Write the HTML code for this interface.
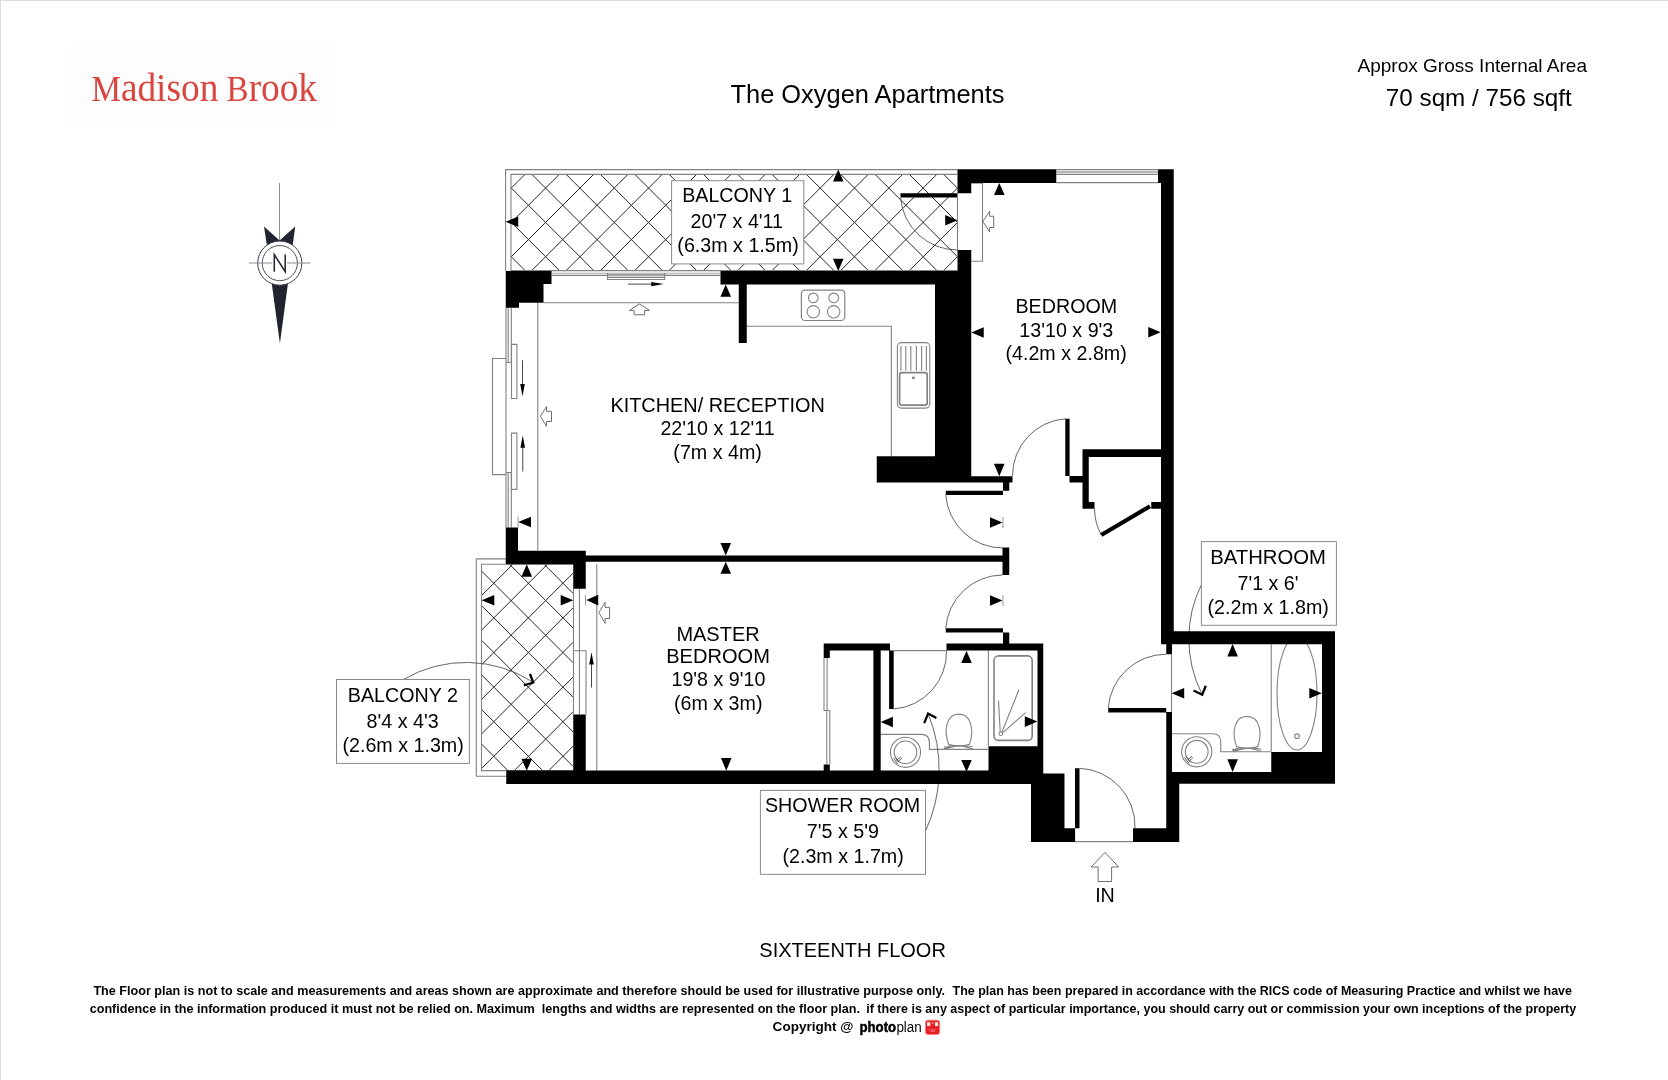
<!DOCTYPE html>
<html><head><meta charset="utf-8"><title>Floor plan</title>
<style>
html,body{margin:0;padding:0;background:#fff;}
body{width:1668px;height:1080px;overflow:hidden;position:relative;font-family:"Liberation Sans",sans-serif;}
svg{position:absolute;left:0;top:0;display:block;will-change:transform;opacity:.999}
text{font-family:"Liberation Sans",sans-serif;fill:#000}
.lbl{font-size:18.4px;text-anchor:middle}
.g{fill:none;stroke:#828282;stroke-width:1.1}
.k{fill:none;stroke:#4a4a4a;stroke-width:0.85}
.w{fill:#000;stroke:none}
.a{fill:#000;stroke:none}
.oa{fill:#fff;stroke:#6e6e6e;stroke-width:1}
.box{fill:#fff;stroke:#8a8a8a;stroke-width:1}
</style></head><body>
<svg width="1668" height="1080" viewBox="0 0 1668 1080">
<rect x="0" y="0" width="1668" height="1" fill="#dcdcdc"/>
<rect x="0" y="0" width="1" height="1080" fill="#dcdcdc"/>
<rect x="71" y="47" width="265" height="80" fill="#fdfdfd"/>
<text x="91.5" y="100.6" style='font-family:"Liberation Serif",serif;font-size:35.5px;fill:#d9463f' textLength="225.5" lengthAdjust="spacingAndGlyphs">M<tspan style="font-size:40px">adison</tspan> B<tspan style="font-size:40px">rook</tspan></text>
<text x="730.5" y="103" style="font-size:25px" textLength="274" lengthAdjust="spacingAndGlyphs">The Oxygen Apartments</text>
<text x="1357.5" y="71.6" style="font-size:18.6px" textLength="229.5" lengthAdjust="spacingAndGlyphs">Approx Gross Internal Area</text>
<text x="1385.8" y="106.4" style="font-size:24px" textLength="186" lengthAdjust="spacingAndGlyphs">70 sqm / 756 sqft</text>
<path d="M511.0 256.5L525.3 270.8M511.0 222.1L559.7 270.8M511.0 187.8L594.0 270.8M531.9 174.4L628.3 270.8M566.2 174.4L662.6 270.8M600.5 174.4L696.9 270.8M634.9 174.4L731.3 270.8M669.2 174.4L765.6 270.8M703.5 174.4L799.9 270.8M737.8 174.4L834.2 270.8M772.1 174.4L868.5 270.8M806.5 174.4L902.9 270.8M840.8 174.4L937.2 270.8M875.1 174.4L957.5 256.8M909.4 174.4L957.5 222.5M943.7 174.4L957.5 188.2M511.0 188.4L525.0 174.4M511.0 222.7L559.3 174.4M511.0 257.0L593.6 174.4M531.5 270.8L627.9 174.4M565.9 270.8L662.3 174.4M600.2 270.8L696.6 174.4M634.5 270.8L730.9 174.4M668.8 270.8L765.2 174.4M703.1 270.8L799.5 174.4M737.5 270.8L833.9 174.4M771.8 270.8L868.2 174.4M806.1 270.8L902.5 174.4M840.4 270.8L936.8 174.4M874.7 270.8L957.5 188.0M909.1 270.8L957.5 222.4M943.4 270.8L957.5 256.7" fill="none" stroke="#262626" stroke-width="1"/>
<path d="M481.5 744.0L508.2 770.8M481.5 709.4L542.9 770.8M481.5 674.8L573.2 766.5M481.5 640.2L573.2 732.0M481.5 605.6L573.2 697.4M481.5 571.0L573.2 662.8M509.4 564.2L573.2 628.1M544.0 564.2L573.2 593.5M481.5 595.6L512.9 564.2M481.5 630.2L547.5 564.2M481.5 664.8L573.2 573.0M481.5 699.4L573.2 607.7M481.5 734.0L573.2 642.2M481.5 768.6L573.2 676.9M514.0 770.8L573.2 711.5M548.6 770.8L573.2 746.1" fill="none" stroke="#262626" stroke-width="1"/>
<g class="g">
<!-- balcony 1 borders -->
<path d="M505.6 271V169.6H957.5M511 271V174.4H957.5M511 270.6H957.5"/>
<!-- balcony 2 borders -->
<path d="M506 558.9H476.3V776.2H506.25M573.25 564.25H481.5V770.6H573.25"/>
<!-- kitchen top window -->
<path d="M551.5 273.3H720.5" stroke="#a8a8a8"/><path d="M551.5 275.4H607.5M664.75 275.4H720.5"/>
<path d="M607.5 273V279.5H664.75V273M607.5 277.4H664.75"/><path d="M607.5 275H664.75" stroke-width="1.4"/>
<!-- kitchen inner frame lines -->
<path d="M543.5 302.75H738.75M537.75 302.75V550.75"/>
<!-- left window -->
<path d="M506 307.75V527.5M508.2 307.75V362.5M511.3 307.75V362.5M506 362.5H511.3M508.2 472.5V527.5M511.3 472.5V527.5M506 472.5H511.3"/>
<path d="M511.5 344.4H516.9V398.5H511.5ZM511.5 433.1H516.9V489.4H511.5Z"/>
<path d="M506 358.5H492.5V474.6H506"/>
<!-- kitchen counter -->
<path d="M746.75 326.3H891.3V456.25"/>
<!-- bedroom window -->
<path d="M1056.25 171.9H1158" stroke="#b5b5b5" stroke-width="2"/><path d="M1056.25 169.6H1158M1056.25 174.4H1158M1056.25 182.6H1158"/>
<!-- bedroom/balcony door frame -->
<path d="M971.25 183.2H982.5V261.25H971.25M957.5 197.5V250"/>
<!-- master bedroom window -->
<path d="M596.8 564.25V770.75M573.5 588.6V714.4M579.4 588.6V714.4M573.5 650.8H586V714.4"/>
<!-- wardrobe doors -->
<path d="M824 657.8V710.5H829.8V764.6M827.1 657.8V710.5M826.8 710.5V764.6"/>
<!-- shower room -->
<path d="M893.7 650.6H946.5M988.4 650.6V746.25"/>
<!-- bathroom -->
<path d="M1171.5 654.25V712M1271.25 644.25V751.5"/>
<!-- entrance threshold -->
<path d="M1075 841.6H1133"/>
</g>
<g class="k">
<!-- door arcs -->
<path d="M900.5 197.5A57 57 0 0 0 957.5 250"/>
<path d="M945.75 495A57.25 57.25 0 0 0 1003 548"/>
<path d="M945.75 628.25A57.25 57.25 0 0 1 1002.5 575"/>
<path d="M1065.5 418.75A57 57 0 0 0 1012.5 476"/>
<path d="M1094.5 508.75A57 57 0 0 0 1101.25 535"/>
<path d="M1108.25 708A58 58 0 0 1 1166 654.25"/>
<path d="M893.7 709A57 57 0 0 0 946.5 650.6"/>
<path d="M1079.5 768.25A58 58 0 0 1 1135 828.25"/>
</g>
<g class="g">
<!-- hob -->
<rect x="801.4" y="290.1" width="43.4" height="30.4" rx="3.6" stroke-width="1.2"/>
<circle cx="813.3" cy="297.9" r="4.8"/><circle cx="833.7" cy="297.9" r="4.8"/>
<circle cx="813.3" cy="311.8" r="6.2"/><circle cx="833.7" cy="311.8" r="6.2"/>
<!-- sink -->
<rect x="897.4" y="342.6" width="32.4" height="65.5" rx="4"/>
<path d="M900.9 346.1V370.8M905.8 346.1V370.8M910.8 346.1V370.8M916.4 346.1V370.8M921.6 346.1V370.8M926.4 346.1V370.8"/>
<rect x="899.6" y="372.6" width="27.6" height="32.6" rx="2.2" stroke-width="1.7"/>
<circle cx="913.4" cy="377.9" r="0.9" fill="#555"/>
<!-- shower tray -->
<rect x="994" y="655.9" width="38.2" height="84.5" rx="4.5" stroke-width="1.6"/>
<circle cx="1000.8" cy="733.7" r="1.8"/>
<path d="M1000.2 731.5L998.5 700.6M1002 732L1019 689.5M1002.6 732.8L1025.7 712.6"/>
<!-- shower room counter + basin + toilet -->
<path d="M880.7 734.4H921.5Q929.4 734.4 929.4 742.5V749.4H988.4"/>
<circle cx="905.5" cy="752.3" r="15.1"/><circle cx="905.5" cy="752.3" r="11.3"/>
<path d="M893.6 758.1L897.8 763.9M895.2 756.9L899.4 762.7M896.5 760.4L901 756.7M897.8 761.7L902 758.2" stroke-width="0.9" stroke="#555"/>
<path d="M948.6 744.2C943.5 730 946.3 714.1 958.8 714.1C971.3 714.1 974.3 730 969.5 744.2Q959 747.4 948.6 744.2Z"/>
<path d="M944 746.7Q949 748.8 951 745.2M944 748.9L948 746.4Q959 744 972.7 749M972.7 746.8Q959 743.8 945.5 749"/>
<!-- bathroom counter + basin + toilet -->
<path d="M1171.6 733.7H1212.6Q1220.7 733.7 1220.7 742V751.7H1271.1"/>
<circle cx="1196.7" cy="751.8" r="15.1"/><circle cx="1196.7" cy="751.8" r="11.4"/>
<path d="M1184.6 757.6L1188.8 763.4M1186.2 756.4L1190.4 762.2M1187.5 759.9L1192 756.2M1188.8 761.2L1193 757.7" stroke-width="0.9" stroke="#555"/>
<path d="M1236.6 746.6C1231.5 732.4 1234.3 716.4 1247 716.4C1259.6 716.4 1262.6 732.4 1257.8 746.6Q1247 749.8 1236.6 746.6Z"/>
<path d="M1232.2 749Q1237 751.2 1239 747.6M1232.2 751.2L1236 748.8Q1247 746.4 1261.5 751.4M1261.5 749.2Q1247 746.2 1233.6 751.4"/>
<!-- bath -->
<ellipse cx="1297" cy="693.25" rx="20" ry="56.75"/>
<circle cx="1297" cy="736.2" r="2.3"/>
</g>
<g fill="none" stroke="#555" stroke-width="0.9">
<path d="M403.4 679.5A123.3 123.3 0 0 1 532.9 682.1"/>
<path d="M925.3 831.5A146.4 146.4 0 0 0 928.1 713.6"/>
<path d="M1201.6 584.25A122.8 122.8 0 0 0 1201.8 693.75"/>
</g>
<path class="w" d="M505.75 271H551.5V284H505.75ZM505.75 284H543.5V302.75H505.75ZM505.75 302.75H519V307.75H505.75ZM720.5 271H971.25V284.5H720.5ZM738.75 284H746.75V343H738.75ZM935 284.5H971.25V476.25H935ZM876.75 456.25H971.25V482.5H876.75ZM971.25 476.25H1012.5V482.5H971.25ZM1003 482.5H1009.25V490.75H1003ZM957.5 169.25H1056.25V183H957.5ZM957.5 183H971.25V193.25H957.5ZM957.5 250H971.25V271.25H957.5ZM900.5 193.25H957.5V197.5H900.5ZM1158 169.25H1173.75V183H1158ZM1161 183H1173.75V643.75H1161ZM945.75 490.75H1003V495H945.75ZM1002.5 547.5H1009.25V575H1002.5ZM585.75 555.5H1002.5V561.75H585.75ZM505.75 527.5H518V563.75H505.75ZM505.75 550.75H585.75V564.25H505.75ZM573.25 564H585.75V588.75H573.25ZM573.25 714.5H585.75V770.75H573.25ZM506.25 770.5H1043.25V783.9H506.25ZM1043 773.5H1064.5V783.9H1043ZM1031 783.75H1064.5V828.3H1031ZM1031 828.2H1075.1V841.9H1031ZM945.75 628.25H1003V632.5H945.75ZM1003 632.5H1009.25V643.75H1003ZM946.5 643.5H1043.25V650.6H946.5ZM823.7 643.5H890V650.6H823.7ZM1037.5 643.5H1043.25V772.5H1037.5ZM873.4 650.6H880.7V772.5H873.4ZM988.5 746.25H1037.5V772.5H988.5ZM889.1 650.6H893.7V709H889.1ZM823.7 650.6H829.8V658H823.7ZM823.7 764.5H829.8V770.75H823.7ZM1065.3 418.75H1069.6V476H1065.3ZM1069.5 476H1082.6V482.4H1069.5ZM1082.5 449.2H1161.25V457H1082.5ZM1082.5 449.2H1088.75V508.6H1082.5ZM1082.5 502H1094.5V508.75H1082.5ZM1151.25 502H1161.25V508.75H1151.25ZM1161.25 631.25H1335V644.25H1161.25ZM1322 631.25H1335V783.75H1322ZM1166.25 772H1335V783.75H1166.25ZM1271.25 752H1322V772H1271.25ZM1166.25 643.75H1172V654.25H1166.25ZM1166.25 712H1172V772H1166.25ZM1108.25 708H1166.25V712.5H1108.25ZM1166.25 783.75H1179.25V842H1166.25ZM1133 828.25H1179.25V842H1133ZM1075 768.25H1079.5V828.25H1075Z"/>
<path d="M1150 506.25L1101.25 535" stroke="#000" stroke-width="4.2" fill="none"/>
<path class="a" d="M838.25 169.6L832.95 181.5H843.55ZM838.25 271L832.95 258.75H843.55ZM505.6 221.75L518.25 216.45V227.05ZM957.5 220.2L945.2 214.9V225.5ZM725.75 284.5L720.45 296.75H731.05ZM725.75 555.5L720.45 543H731.05ZM518.1 522L531 516.7V527.3ZM1002.5 522.5L990 517.2V527.8ZM999.3 182.9L994 195H1004.6ZM999.25 476.25L993.95 463.75H1004.55ZM971.25 332.5L983.75 327.2V337.8ZM1160.75 332.2L1148.25 326.9V337.5ZM725.75 561.75L720.45 573.75H731.05ZM726.25 770.75L720.95 758H731.55ZM586.4 600.1L598.2 594.8V605.4ZM1002.5 600.5L990 595.2V605.8ZM526.75 564.25L521.45 576.75H532.05ZM526.75 770.75L521.45 758.75H532.05ZM481.5 600.2L494.3 594.9V605.5ZM573.25 600.2L560.7 594.9V605.5ZM966.5 650.75L961.2 663H971.8ZM966.5 771.9L961.2 759.9H971.8ZM880.7 722L892.9 716.7V727.3ZM1037.4 721.6L1024.8 716.3V726.9ZM1232.6 644.1L1227.3 656.5H1237.9ZM1232.6 771.9L1227.3 759.3H1237.9ZM1171.6 693.3L1184.2 688V698.6ZM1321.8 693.3L1309.3 688V698.6Z"/>
<path class="g" style="stroke:#a0a0a0" d="M518.1 516.5V527.5M1002.9 517V528M585.5 595V605.5M1002.9 595V606"/>
<path d="M628 284.1H652M522.5 360.25V385M522.75 471.5V447M591.5 687.6V664" fill="none" stroke="#333" stroke-width="0.9"/>
<path class="a" d="M663.75 284.1L651.25 281.9V286.3ZM522.5 396.25L520.2 384H524.8ZM522.75 435.6L520.45 447.8H525.05ZM591.5 652.2L589.2 664.4H593.8Z"/>
<path class="oa" d="M639.4 304L649.6 310.4H644.6V314.75H634.1V310.4H629.4Z"/>
<path class="oa" d="M540.4 416.3L546.5 406.5V411.25H551.5V421.5H546.5V426.25Z"/>
<path class="oa" d="M982.9 221.5L989.6 211.25V216.25H993.75V227.5H989.6V231.8Z"/>
<path class="oa" d="M598.9 612.6L605.1 602.2V607.4H609.6V618.5H605.1V623.3Z"/>
<path class="oa" d="M1105 852.4L1118.7 867H1111.6V881.5H1098.1V867H1091.1Z"/>
<path d="M523.8 685.3L533.2 682.6L530 673.8M924.2 723.1L928.1 713.6L936.4 717.9M1193.5 690.5L1202.2 694.7L1205.8 685.7" fill="none" stroke="#000" stroke-width="2.3" stroke-linejoin="miter"/>
<rect class="box" x="671.6" y="180.7" width="132.2" height="83.2"/>
<text transform="translate(737.2 201.7) scale(1.01 1)" style="font-size:19.5px" text-anchor="middle">BALCONY 1</text>
<text transform="translate(736.8 228.2) scale(1.01 1)" style="font-size:19.5px" text-anchor="middle">20'7 x 4'11</text>
<text transform="translate(738 252.4) scale(1.01 1)" style="font-size:19.5px" text-anchor="middle">(6.3m x 1.5m)</text>
<text transform="translate(717.6 411.6) scale(1.02 1)" style="font-size:19.5px" text-anchor="middle">KITCHEN/ RECEPTION</text>
<text transform="translate(717.6 434.8) scale(1.01 1)" style="font-size:19.5px" text-anchor="middle">22'10 x 12'11</text>
<text transform="translate(717.6 458.9) scale(1.01 1)" style="font-size:19.5px" text-anchor="middle">(7m x 4m)</text>
<text transform="translate(1066.3 312.9) scale(1.01 1)" style="font-size:19.5px" text-anchor="middle">BEDROOM</text>
<text transform="translate(1066.3 336.5) scale(1.01 1)" style="font-size:19.5px" text-anchor="middle">13'10 x 9'3</text>
<text transform="translate(1066.1 360.4) scale(1.01 1)" style="font-size:19.5px" text-anchor="middle">(4.2m x 2.8m)</text>
<text transform="translate(718 640.8) scale(1.025 1)" style="font-size:19.5px" text-anchor="middle">MASTER</text>
<text transform="translate(718 662.8) scale(1.03 1)" style="font-size:19.5px" text-anchor="middle">BEDROOM</text>
<text transform="translate(718.4 686.2) scale(1.01 1)" style="font-size:19.5px" text-anchor="middle">19'8 x 9'10</text>
<text transform="translate(718.2 710.3) scale(1.01 1)" style="font-size:19.5px" text-anchor="middle">(6m x 3m)</text>
<rect class="box" x="1201.4" y="541.6" width="135" height="83.7"/>
<text transform="translate(1268 563.7) scale(1.04 1)" style="font-size:19.5px" text-anchor="middle">BATHROOM</text>
<text transform="translate(1268 589.6) scale(1.01 1)" style="font-size:19.5px" text-anchor="middle">7'1 x 6'</text>
<text transform="translate(1268.2 614.3) scale(1.01 1)" style="font-size:19.5px" text-anchor="middle">(2.2m x 1.8m)</text>
<rect class="box" x="760.4" y="790.4" width="165.1" height="83.95"/>
<text transform="translate(842.6 812.3) scale(1.01 1)" style="font-size:19.5px" text-anchor="middle">SHOWER ROOM</text>
<text transform="translate(842.8 838.4) scale(1.01 1)" style="font-size:19.5px" text-anchor="middle">7'5 x 5'9</text>
<text transform="translate(843.1 863.2) scale(1.01 1)" style="font-size:19.5px" text-anchor="middle">(2.3m x 1.7m)</text>
<rect class="box" x="336.5" y="679.5" width="132.9" height="83.9"/>
<text transform="translate(402.8 701.6) scale(1.01 1)" style="font-size:19.5px" text-anchor="middle">BALCONY 2</text>
<text transform="translate(402.6 727.8) scale(1.01 1)" style="font-size:19.5px" text-anchor="middle">8'4 x 4'3</text>
<text transform="translate(403.1 751.7) scale(1.01 1)" style="font-size:19.5px" text-anchor="middle">(2.6m x 1.3m)</text>
<text transform="translate(1105 902.4) scale(1.01 1)" style="font-size:19.5px" text-anchor="middle">IN</text>
<text transform="translate(852.6 957) scale(1.025 1)" style="font-size:19.5px" text-anchor="middle">SIXTEENTH FLOOR</text>
<g>
<path d="M279.5 183.1V241" stroke="#8a8d94" stroke-width="1" fill="none"/>
<path d="M264 226.5L279.6 240.6L295.2 226.5L292.6 246H267Z" fill="#20242e"/>
<path d="M271.7 283L288 283L279.9 343.5Z" fill="#20242e"/>
<circle cx="279.8" cy="263.1" r="22.1" fill="#fff" stroke="#3a3d45" stroke-width="1"/>
<circle cx="279.8" cy="263.1" r="17.6" fill="none" stroke="#3a3d45" stroke-width="0.9"/>
<path d="M249 263H272.3M287.3 263H310.6" stroke="#8a8d94" stroke-width="1" fill="none"/>
<path d="M274.3 271.7V254.6L285.2 271.7V254.6" stroke="#20242e" stroke-width="1.5" fill="none" stroke-linejoin="miter"/>
</g>
<g style="font-weight:bold;font-size:12.6px">
<text x="93.4" y="995.4" textLength="851.6" lengthAdjust="spacingAndGlyphs">The Floor plan is not to scale and measurements and areas shown are approximate and therefore should be used for illustrative purpose only.</text>
<text x="952.5" y="995.4" textLength="619.5" lengthAdjust="spacingAndGlyphs">The plan has been prepared in accordance with the RICS code of Measuring Practice and whilst we have</text>
<text x="89.7" y="1013.4" textLength="770.3" lengthAdjust="spacingAndGlyphs">confidence in the information produced it must not be relied on. Maximum&#160; lengths and widths are represented on the floor plan.</text>
<text x="866.25" y="1013.4" textLength="710" lengthAdjust="spacingAndGlyphs">if there is any aspect of particular importance, you should carry out or commission your own inceptions of the property</text>
<text x="772.6" y="1031.4" textLength="81" lengthAdjust="spacingAndGlyphs">Copyright @</text>
<text x="859.5" y="1032" textLength="36.6" lengthAdjust="spacingAndGlyphs" style="font-size:14px;stroke:#000;stroke-width:0.45px">photo</text>
<text x="896.4" y="1032" textLength="25.4" lengthAdjust="spacingAndGlyphs" style="font-weight:normal;font-size:14px">plan</text>
</g>
<rect x="925.5" y="1020.2" width="14.2" height="14.3" rx="2.4" fill="#e62026" stroke="#f28080" stroke-width="0.9"/>
<rect x="927" y="1022.2" width="3.3" height="3.9" fill="#fde9dc"/>
<rect x="935" y="1022.2" width="3.1" height="3.9" fill="#fde9dc"/>
<rect x="931.9" y="1022.6" width="1.6" height="1" fill="#fde9dc"/>
<path d="M929 1029.7h1.2m1.2 0h1.6m1.2 0h1.2M930.5 1031.2h4.2" stroke="#f9b0b0" stroke-width="0.8" fill="none"/>
</svg>
</body></html>
